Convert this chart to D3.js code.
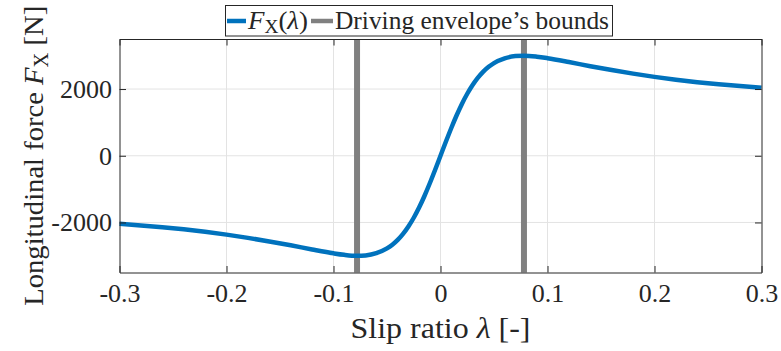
<!DOCTYPE html>
<html>
<head>
<meta charset="utf-8">
<script src="https://cdn.jsdelivr.net/npm/d3@7"></script>
<style>
  html, body { margin: 0; padding: 0; background: #fff; }
  svg { display: block; }
  text { font-family: "Liberation Serif", "DejaVu Serif", serif; fill: #262626; }
</style>
</head>
<body>
<svg id="chart" width="781" height="351"></svg>
<script>
// Slip ratio samples and the longitudinal tyre force at each one
const slipRatio = [-0.3, -0.28, -0.26, -0.24, -0.22, -0.2, -0.18, -0.16, -0.14, -0.12, -0.1, -0.09, -0.078,
  -0.07, -0.06, -0.05, -0.045, -0.04, -0.035, -0.03, -0.025, -0.02, -0.015, -0.01, -0.005, 0,
  0.005, 0.01, 0.015, 0.02, 0.025, 0.03, 0.035, 0.04, 0.045, 0.05, 0.06, 0.07, 0.078, 0.09, 0.1,
  0.12, 0.14, 0.16, 0.18, 0.2, 0.22, 0.24, 0.26, 0.28, 0.3];
const forceFx = [-2040, -2088, -2142, -2205, -2280, -2365, -2462, -2570, -2685, -2810, -2925, -2970, -3000,
  -2987, -2921, -2779, -2667, -2523, -2342, -2121, -1859, -1553, -1206, -825, -419, 0,
  419, 825, 1206, 1553, 1859, 2121, 2342, 2523, 2667, 2779, 2921, 2987, 3000, 2970, 2925,
  2810, 2685, 2570, 2462, 2365, 2280, 2205, 2142, 2088, 2040];
// Bounds of the driving envelope (slip ratio at peak force)
const envelopeBounds = [-0.078, 0.078];
const xTicks = [-0.3, -0.2, -0.1, 0, 0.1, 0.2, 0.3];
const yTicks = [-2000, 0, 2000];

const svg = d3.select("#chart");
const W = 781, H = 351;
const margin = { left: 119.5, right: 19.5, top: 39, bottom: 78.5 };
const x = d3.scaleLinear().domain([-0.3, 0.3]).range([margin.left, W - margin.right]);
const y = d3.scaleLinear().domain([-3500, 3500]).range([H - margin.bottom, margin.top]);
const axisColor = "#262626";
const tickLen = 6.5;

// Grid
const grid = svg.append("g");
grid.selectAll(".gx").data(xTicks.slice(1, -1)).join("line")
  .attr("x1", d => x(d)).attr("x2", d => x(d))
  .attr("y1", y.range()[1]).attr("y2", y.range()[0])
  .attr("stroke", "#e3e3e3").attr("stroke-width", 1);
grid.selectAll(".gy").data(yTicks).join("line")
  .attr("y1", d => y(d)).attr("y2", d => y(d))
  .attr("x1", x.range()[0]).attr("x2", x.range()[1])
  .attr("stroke", "#e3e3e3").attr("stroke-width", 1);

// Envelope bounds
svg.append("g").selectAll("line").data(envelopeBounds).join("line")
  .attr("x1", d => x(d)).attr("x2", d => x(d))
  .attr("y1", y.range()[1]).attr("y2", y.range()[0])
  .attr("stroke", "#808080").attr("stroke-width", 6);

// Force curve
const line = d3.line().x((d, i) => x(slipRatio[i])).y(d => y(d)).curve(d3.curveMonotoneX);
svg.append("path").datum(forceFx)
  .attr("d", line)
  .attr("fill", "none").attr("stroke", "#0072BD").attr("stroke-width", 4.5)
  .attr("stroke-linejoin", "round");

// Axes (box with inward ticks on all sides)
const fmtX = d => d === 0 ? "0" : d3.format(".1f")(d).replace("\u2212", "-");
const fmtY = d => String(d);
const axB = d3.axisBottom(x).tickValues(xTicks).tickSizeInner(-tickLen).tickSizeOuter(0).tickPadding(11).tickFormat(fmtX);
const axT = d3.axisTop(x).tickValues(xTicks).tickSizeInner(-tickLen).tickSizeOuter(0).tickFormat("");
const axL = d3.axisLeft(y).tickValues(yTicks).tickSizeInner(-tickLen).tickSizeOuter(0).tickPadding(7.5).tickFormat(fmtY);
const axR = d3.axisRight(y).tickValues(yTicks).tickSizeInner(-tickLen).tickSizeOuter(0).tickFormat("");

function styleAxis(g) {
  g.select(".domain").attr("stroke", axisColor).attr("stroke-width", 1);
  g.selectAll(".tick line").attr("stroke", axisColor).attr("stroke-width", 1);
  g.selectAll(".tick text").attr("fill", axisColor)
    .style("font-family", "'Liberation Serif', serif").style("font-size", "26px");
}
svg.append("g").attr("transform", `translate(0,${y.range()[0]})`).call(axB).call(styleAxis);
svg.append("g").attr("transform", `translate(0,${y.range()[1]})`).call(axT).call(styleAxis);
svg.append("g").attr("transform", `translate(${x.range()[0]},0)`).call(axL).call(styleAxis);
svg.append("g").attr("transform", `translate(${x.range()[1]},0)`).call(axR).call(styleAxis);

// Axis labels
svg.append("text")
  .attr("x", (x.range()[0] + x.range()[1]) / 2).attr("y", 338)
  .attr("text-anchor", "middle").style("font-size", "29px")
  .attr("textLength", 180).attr("lengthAdjust", "spacingAndGlyphs")
  .html('Slip ratio <tspan font-style="italic">λ</tspan> [-]');

svg.append("text")
  .attr("transform", `translate(43,${(y.range()[0] + y.range()[1]) / 2}) rotate(-90)`)
  .attr("text-anchor", "middle").style("font-size", "28px")
  .attr("textLength", 300).attr("lengthAdjust", "spacingAndGlyphs")
  .html('Longitudinal force <tspan font-style="italic">F</tspan><tspan font-size="20px" dy="5">X</tspan><tspan dy="-5">  [N]</tspan>');

// Legend
const lg = svg.append("g");
lg.append("rect").attr("x", 225.5).attr("y", 5.5).attr("width", 387).attr("height", 30.5)
  .attr("fill", "#fff").attr("stroke", axisColor).attr("stroke-width", 1);
lg.append("line").attr("x1", 227).attr("x2", 246).attr("y1", 21).attr("y2", 21)
  .attr("stroke", "#0072BD").attr("stroke-width", 4.5);
lg.append("text").attr("x", 248).attr("y", 28.5).style("font-size", "25px")
  .attr("textLength", 60).attr("lengthAdjust", "spacingAndGlyphs")
  .html('<tspan font-style="italic">F</tspan><tspan font-size="18px" dy="4">X</tspan><tspan dy="-4">(</tspan><tspan font-style="italic">λ</tspan>)');
lg.append("line").attr("x1", 311).attr("x2", 333).attr("y1", 21).attr("y2", 21)
  .attr("stroke", "#808080").attr("stroke-width", 4.5);
lg.append("text").attr("x", 335).attr("y", 28.5).style("font-size", "25px")
  .attr("textLength", 274).attr("lengthAdjust", "spacingAndGlyphs")
  .text("Driving envelope\u2019s bounds");
</script>
</body>
</html>
